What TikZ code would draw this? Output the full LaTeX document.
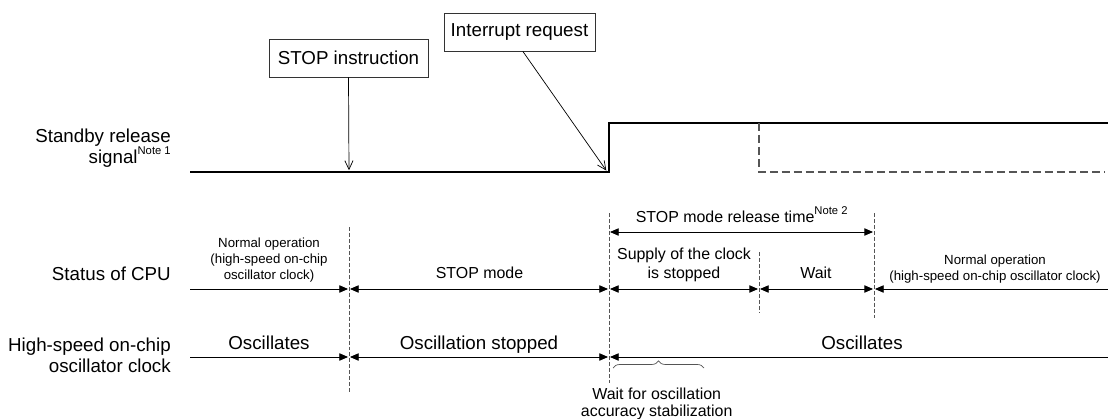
\documentclass[tikz,border=0pt]{standalone}
\usepackage{fontspec}
\setmainfont{Liberation Sans}
\usetikzlibrary{arrows.meta, positioning, decorations.pathreplacing}
\definecolor{lineDark}{HTML}{333333}
\definecolor{dashGray}{HTML}{555555}
\newcommand{\fBig}{\fontsize{16}{18}\selectfont}
\newcommand{\fMid}{\fontsize{13.6}{16.5}\selectfont}
\newcommand{\fSmall}{\fontsize{11.3}{13.4}\selectfont}
\newcommand{\supnote}[1]{\raisebox{0.9ex}{\fontsize{9.6}{10}\selectfont #1}}
\tikzset{
  sigLine/.style={line width=1.7pt, line join=miter},
  sigDash/.style={line width=1.1pt, dashGray, dash pattern=on 6.8pt off 3.4pt},
  sepD/.style={line width=0.6pt, dashGray, dash pattern=on 3.4pt off 1.7pt},
  boxW/.style={rectangle, draw=lineDark, line width=0.6pt, font=\fBig,
               minimum height=1.14cm, inner sep=0pt},
  callArrow/.style={-{Straight Barb[length=7.5pt, width=7pt]}, line width=0.6pt,
                    shorten >=1.5pt},
  tArrowR/.style={-{Triangle[length=7.5pt, width=6.3pt]}, line width=0.8pt,
                  shorten >=0.8pt},
  tArrowL/.style={{Triangle[length=7.5pt, width=6.3pt]}-, line width=0.8pt,
                  shorten <=0.8pt},
  tArrowLR/.style={{Triangle[length=7.5pt, width=6.3pt]}-{Triangle[length=7.5pt, width=6.3pt]},
                   line width=0.8pt, shorten <=0.8pt, shorten >=0.8pt},
  lblBig/.style={font=\fBig, align=right, inner sep=0pt, anchor=base east},
  lblMid/.style={font=\fMid, align=center, inner sep=0pt, anchor=base},
  lblSmall/.style={font=\fSmall, align=center, inner sep=0pt, anchor=base},
  lblOsc/.style={font=\fBig, inner sep=0pt, anchor=base},
}
\begin{document}
\begin{tikzpicture}[x=0.03cm, y=-0.03cm]
  \useasboundingbox (0,0) rectangle (1108,419);
  % time points and rows
  \coordinate (tA) at (190,0);
  \coordinate (tStop) at (349,0);
  \coordinate (tInt) at (609,0);
  \coordinate (tSup) at (759,0);
  \coordinate (tRel) at (874,0);
  \coordinate (tEnd) at (1108,0);
  \coordinate (yHi) at (0,123);
  \coordinate (yLo) at (0,172);
  \coordinate (yRel) at (0,232);
  \coordinate (yCpu) at (0,289);
  \coordinate (yClk) at (0,357);

  % row labels
  \node[lblBig] (sbL) at (171,163.3) {Standby release\\signal\supnote{Note 1}};
  \node[lblBig] (cpuL) at (171,280) {Status of CPU};
  \node[lblBig] (clkL) at (171,372.3) {High-speed on-chip\\oscillator clock};

  % standby release signal
  \draw[sigLine] (tA |- yLo) -- (tInt |- yLo) -- (tInt |- yHi) -- (tEnd |- yHi);
  \draw[sigDash] (tSup |- yHi) -- (tSup |- yLo) -- ([xshift=-0.1cm]tEnd |- yLo);

  \node[boxW, minimum width=4.77cm] (stopI) at (348.5,58) {STOP instruction};
  \node[boxW, minimum width=4.53cm] (intR) at (519.5,32) {Interrupt request};
  \draw[callArrow] (stopI.south) -- (tStop |- yLo);
  \draw[callArrow] ([xshift=0.1cm]intR.south) -- ([xshift=-0.05cm]tInt |- yLo);

  % separators
  \foreach \t/\a/\b in {tStop/227/393, tInt/213/383, tSup/252/312, tRel/213/318}
    \draw[sepD] (\t |- 0,\a) -- (\t |- 0,\b);

  % release time
  \draw[tArrowLR] (tInt |- yRel) -- (tRel |- yRel);
  \node[lblSmall, font=\fMid] (relT) at (741.7,222.3) {STOP mode release time\supnote{Note 2}};

  % CPU status
  \draw[tArrowR] (tA |- yCpu) -- (tStop |- yCpu);
  \draw[tArrowLR] (tStop |- yCpu) -- (tInt |- yCpu);
  \draw[tArrowLR] (tInt |- yCpu) -- (tSup |- yCpu);
  \draw[tArrowLR] (tSup |- yCpu) -- (tRel |- yCpu);
  \draw[tArrowL] (tRel |- yCpu) -- (tEnd |- yCpu);
  \node[lblSmall] (nopA) at (269,279) {Normal operation\\(high-speed on-chip\\oscillator clock)};
  \node[lblMid] (stopM) at (479.5,278.7) {STOP mode};
  \node[lblMid, font=\fontsize{13.6}{16.6}\selectfont] (supS) at (684,278.7) {Supply of the clock\\is stopped};
  \node[lblMid] (waitS) at (816,278.7) {Wait};
  \node[lblSmall] (nopB) at (995,280) {Normal operation\\(high-speed on-chip oscillator clock)};

  % oscillator clock
  \draw[tArrowR] (tA |- yClk) -- (tStop |- yClk);
  \draw[tArrowLR] (tStop |- yClk) -- (tInt |- yClk);
  \draw[tArrowL] (tInt |- yClk) -- (tEnd |- yClk);
  \node[lblOsc] (oscA) at (269,349.3) {Oscillates};
  \node[lblOsc] (oscS) at (479,349.3) {Oscillation stopped};
  \node[lblOsc] (oscB) at (862,349.3) {Oscillates};

  \coordinate (brL) at (613,368);
  \coordinate (brR) at (704,368);
  \draw[dashGray, line width=0.6pt, decorate, decoration={brace, amplitude=6pt}] (brL) -- (brR);
  \node[lblMid, font=\fontsize{13.6}{15.1}\selectfont] (waitO) at (656.7,416.7) {Wait for oscillation\\accuracy stabilization};
\end{tikzpicture}
\end{document}
